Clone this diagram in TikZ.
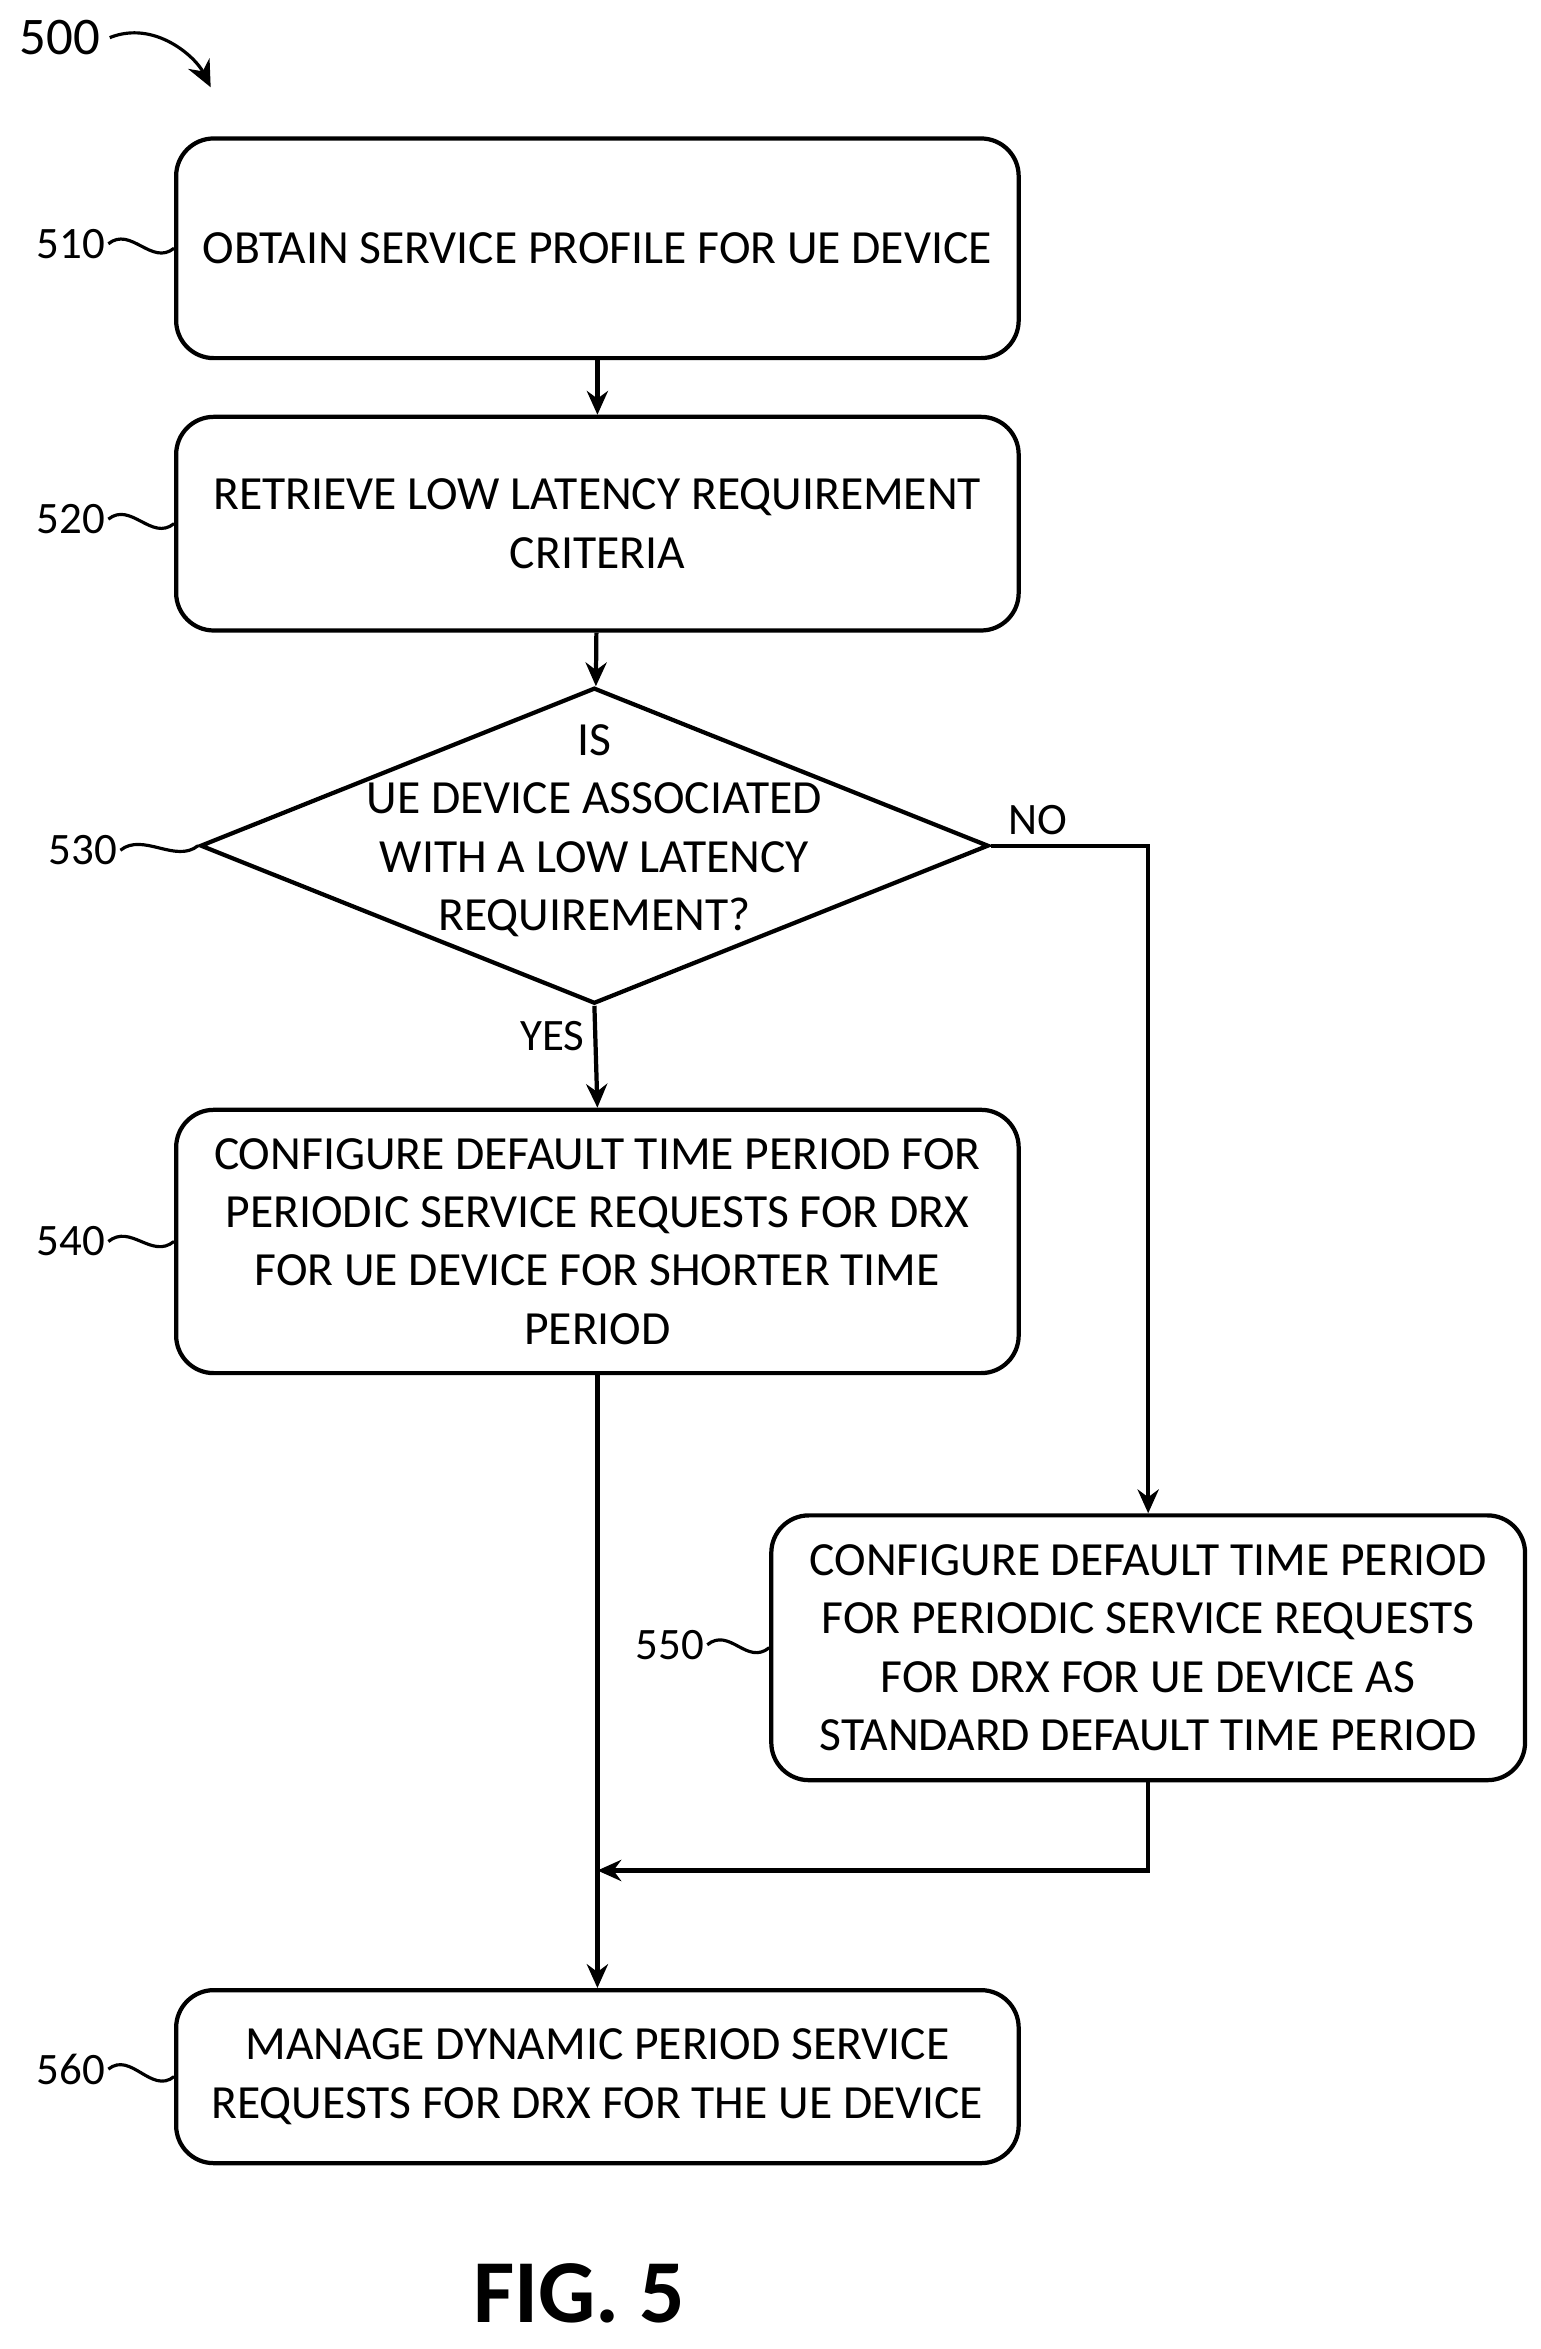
\documentclass[tikz,border=0pt]{standalone}
\usepackage{fontspec}
\setmainfont{Carlito}
\usetikzlibrary{shapes.geometric,arrows.meta}
\begin{document}
\begin{tikzpicture}[x=0.02cm,y=-0.02cm,
  step_box/.style={draw,line width=1.6pt,rounded corners=0.5cm,align=center,font=\fontsize{18}{22}\selectfont,inner sep=0pt},
  ref_lbl/.style={font=\fontsize{17}{20}\selectfont,anchor=east,inner sep=1pt},
  flow/.style={line width=1.6pt,-{Stealth[length=9pt,width=8pt]}},
  squig/.style={line width=1.2pt}]
  \useasboundingbox (0,0) rectangle (1024,1561);
  \node[step_box,minimum width=11.2cm,minimum height=2.92cm] (510) at (397,165) {OBTAIN SERVICE PROFILE FOR UE DEVICE};
  \node[step_box,minimum width=11.2cm,minimum height=2.84cm] (520) at (397,348) {RETRIEVE LOW LATENCY REQUIREMENT\\CRITERIA};
  \node[draw,diamond,line width=1.6pt,aspect=2.5,minimum width=10.48cm,minimum height=4.2cm,inner sep=0pt] (530) at (395,562) {};
  \node[align=center,font=\fontsize{18}{22}\selectfont] (530t) at (395,552) {IS\\UE DEVICE ASSOCIATED\\WITH A LOW LATENCY\\REQUIREMENT?};
  \node[step_box,minimum width=11.2cm,minimum height=3.5cm] (540) at (397,825) {CONFIGURE DEFAULT TIME PERIOD FOR\\PERIODIC SERVICE REQUESTS FOR DRX\\FOR UE DEVICE FOR SHORTER TIME\\PERIOD};
  \node[step_box,minimum width=10.02cm,minimum height=3.52cm] (550) at (763,1095) {CONFIGURE DEFAULT TIME PERIOD\\FOR PERIODIC SERVICE REQUESTS\\FOR DRX FOR UE DEVICE AS\\STANDARD DEFAULT TIME PERIOD};
  \node[step_box,minimum width=11.2cm,minimum height=2.3cm] (560) at (397,1380) {MANAGE DYNAMIC PERIOD SERVICE\\REQUESTS FOR DRX FOR THE UE DEVICE};
  \coordinate (j) at (397,1243);

  % reference labels
  \node[ref_lbl] (l510) at (72,162) {510};
  \node[ref_lbl] (l520) at (72,345) {520};
  \node[ref_lbl] (l530) at (80,565) {530};
  \node[ref_lbl] (l540) at (72,825) {540};
  \node[ref_lbl] (l550) at (470,1093) {550};
  \node[ref_lbl] (l560) at (72,1375) {560};
  \foreach \l/\b in {l510/510,l520/520,l530/530,l540/540,l550/550,l560/560}
    \draw[squig] (\l.east) .. controls +(15,-12) and +(-15,12) .. (\b.west);
  \node[font=\fontsize{20}{24}\selectfont] (l500) at (40,25) {500};
  \draw[squig,-{Stealth[length=10pt,width=9pt]}] (l500.east) .. controls +(30,-12) and +(-10,-20) .. (140,58);

  % connectors
  \draw[flow] (510) -- (520);
  \draw[flow] (520) -- (530);
  \draw[flow] (530.south) -- node[left,font=\fontsize{17}{20}\selectfont,pos=0.3]{YES} (540.north);
  \draw[flow] (530.east) -| node[above,font=\fontsize{17}{20}\selectfont,pos=0.15]{NO} (550.north);
  \draw[flow] (540.south) -- (560.north);
  \draw[flow] (550.south) |- (j);

  \node[font=\bfseries\fontsize{34}{38}\selectfont] (fig) at (385,1524) {FIG. 5};
\end{tikzpicture}
\end{document}
